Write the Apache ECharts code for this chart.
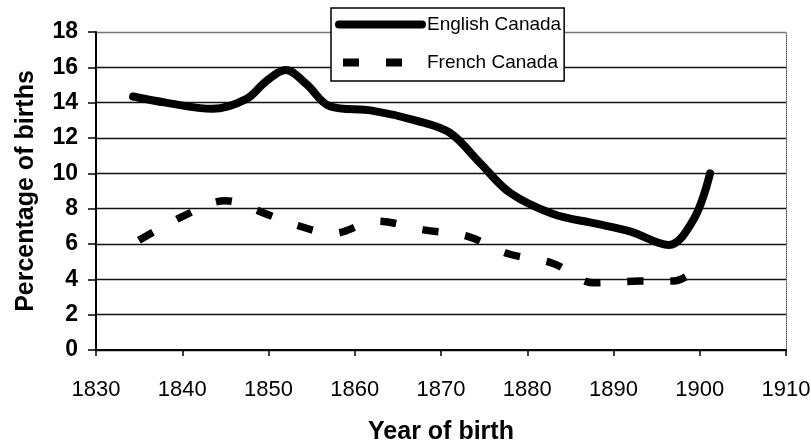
<!DOCTYPE html>
<html>
<head>
<meta charset="utf-8">
<script src="https://cdn.jsdelivr.net/npm/echarts@6/dist/echarts.min.js"></script>
<style>
html, body { margin: 0; padding: 0; background: #fff; }
#chart { width: 811px; height: 440px; }
</style>
</head>
<body>
<div id="chart"></div>
<script>
////--------------------------------------------------------------------////
const series_names = ['English Canada', 'French Canada'];
const english_years  = [1834.3, 1838.1, 1843.5, 1847.4, 1849.7, 1852, 1854.4, 1857.1, 1862, 1867, 1871, 1874.5, 1878, 1883, 1888, 1892, 1896.4, 1899.3, 1901.2];
const english_values = [14.35, 14.0, 13.65, 14.2, 15.2, 15.85, 15.05, 13.8, 13.55, 13.0, 12.3, 10.6, 8.9, 7.7, 7.15, 6.7, 5.95, 7.4, 10.0];
const french_years   = [1834.6, 1840, 1845, 1850, 1853, 1857.5, 1862.5, 1868, 1873, 1877.8, 1883, 1887.8, 1893, 1897, 1898.6];
const french_values  = [6.1, 7.55, 8.45, 7.65, 7.1, 6.6, 7.3, 6.8, 6.45, 5.45, 4.9, 3.8, 3.9, 3.9, 4.2];
const x_ticks = [1830, 1910, 10];   // min, max, step
const y_ticks = [0, 18, 2];
////--------------------------------------------------------------------////
function pairs(xs, ys) {
    const out = [];
    for (let index = 0; index < xs.length; index++) out.push([xs[index], ys[index]]);
    return out;
}
////-------------------////
const plain = "'Liberation Sans', Arial, sans-serif";

const chart = echarts.init(document.getElementById('chart'), null, {renderer: 'canvas'});
chart.setOption({
    animation: false,
    backgroundColor: '#fff',
    grid: { left: 96, right: 25, top: 32, bottom: 90, containLabel: false, outerBoundsMode: 'none' },
    legend: {
        orient: 'vertical',
        left: 331, top: 8,
        padding: [7, 3, 9, 4],
        itemGap: 19,
        itemWidth: 83, itemHeight: 14,
        backgroundColor: '#fff',
        borderColor: '#000', borderWidth: 1.5,
        itemStyle: { opacity: 0 },
        lineStyle: { width: 8 },
        textStyle: { fontFamily: plain, fontSize: 19, color: '#000' },
        data: series_names
    },
    xAxis: {
        type: 'value',
        min: x_ticks[0], max: x_ticks[1], interval: x_ticks[2],
        name: 'Year of birth', nameLocation: 'middle', nameGap: 70,
        nameTextStyle: { fontFamily: plain, fontSize: 25, fontWeight: 'bold', color: '#000' },
        axisLine: { lineStyle: { color: '#000', width: 2 } },
        axisTick: { show: true, length: 6, lineStyle: { color: '#000', width: 1.5 } },
        axisLabel: { margin: 29, fontFamily: plain, fontSize: 22, color: '#000', formatter: v => '' + v },
        splitLine: { show: false }
    },
    yAxis: [{
        type: 'value',
        min: y_ticks[0], max: y_ticks[1], interval: y_ticks[2],
        name: 'Percentage of births', nameLocation: 'middle', nameGap: 57,
        nameTextStyle: { fontFamily: plain, fontSize: 25, fontWeight: 'bold', color: '#000' },
        axisLine: { show: true, lineStyle: { color: '#000', width: 2 } },
        axisTick: { show: true, length: 8, lineStyle: { color: '#000', width: 1.5 } },
        axisLabel: { margin: 18, fontFamily: plain, fontSize: 23, fontWeight: 'bold', color: '#000' },
        splitLine: { show: true, lineStyle: { color: ['#111','#111','#111','#111','#111','#111','#111','#111','#111','#777'], width: 1.4 } }
    }, {
        type: 'value', position: 'right',
        min: y_ticks[0], max: y_ticks[1], interval: y_ticks[2],
        axisLine: { show: true, lineStyle: { color: '#555', width: 1, type: 'dotted' } },
        axisTick: { show: false }, axisLabel: { show: false }, splitLine: { show: false }
    }],
    series: [{
        name: series_names[0],
        type: 'line',
        data: pairs(english_years, english_values),
        smooth: 0.35,
        showSymbol: false, symbol: 'none',
        lineStyle: { color: '#000', width: 8, cap: 'round', join: 'round' },
        itemStyle: { color: '#000' }
    }, {
        name: series_names[1],
        type: 'line',
        data: pairs(french_years, french_values),
        smooth: 0.35,
        showSymbol: false, symbol: 'none',
        lineStyle: { color: '#000', width: 7.5, type: [16, 27], dashOffset: -4 },
        itemStyle: { color: '#000' }
    }]
});
window.addEventListener('resize', chart.resize);
</script>
</body>
</html>
